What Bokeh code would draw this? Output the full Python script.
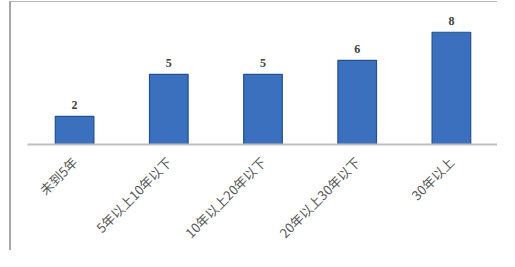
import math
from bokeh.plotting import figure
from bokeh.models import ColumnDataSource, LabelSet, Range1d
from bokeh.embed import file_html
from bokeh.resources import INLINE

categories = ["未到5年", "5年以上10年以下", "10年以上20年以下", "20年以上30年以下", "30年以上"]
values = [2, 5, 5, 6, 8]
value_labels = [str(v) for v in values]

src = ColumnDataSource(data=dict(cat=categories, val=values, lab=value_labels))

p = figure(x_range=categories, y_range=Range1d(0, 10.12), width=488, height=249,
           output_backend="svg", toolbar_location=None,
           min_border_left=16, min_border_right=1, min_border_top=0, min_border_bottom=106,
           styles={"margin-left": "9px", "margin-top": "1px",
                   "border-left": "2px solid #a6a6a6", "border-top": "1px solid #b8b8b8"})

p.vbar(x="cat", top="val", width=0.41, source=src,
       fill_color="#3A70BE", line_color="#24508F", line_width=1.2)

labels = LabelSet(x="cat", y="val", text="lab", source=src, y_offset=7,
                  text_align="center", text_baseline="bottom",
                  text_font="Open Sans", text_font_style="bold",
                  text_font_size="12px", text_color="#404040")
p.add_layout(labels)

p.yaxis.visible = False
p.xgrid.grid_line_color = None
p.ygrid.grid_line_color = None
p.outline_line_color = None
p.xaxis.axis_line_color = "#BFBFBF"
p.xaxis.axis_line_width = 2
p.xaxis.major_tick_line_color = None
p.xaxis.minor_tick_line_color = None
p.xaxis.major_label_orientation = math.pi / 4
p.xaxis.major_label_text_font = "Noto Sans CJK SC"
p.xaxis.major_label_text_font_size = "13px"
p.xaxis.major_label_text_color = "#595959"
p.xaxis.major_label_standoff = 9
p.x_range.range_padding = 0.0

open("out.html", "w").write(file_html(p, INLINE))
